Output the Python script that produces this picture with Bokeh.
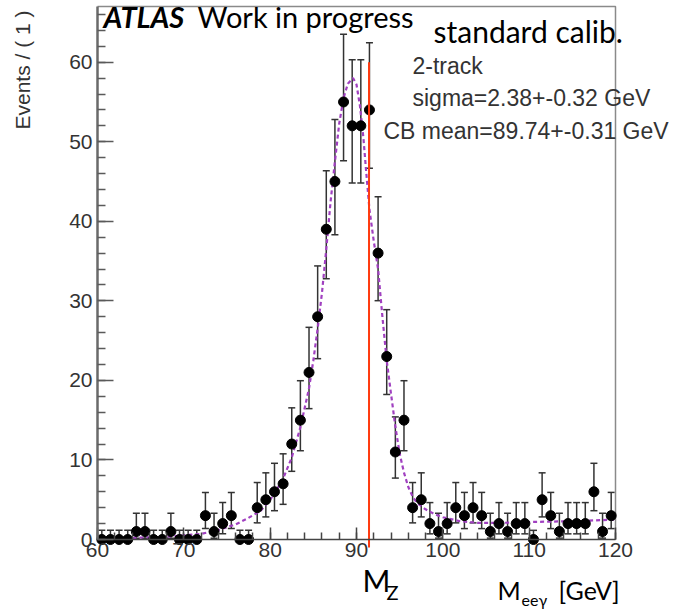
import math
from bokeh.plotting import figure
from bokeh.models import (ColumnDataSource, Range1d, FixedTicker, Label,
                          Whisker, TeeHead)
from bokeh.embed import file_html
from bokeh.resources import INLINE

# ---------------- data ----------------
bin_centers = [60.5 + i for i in range(60)]
counts = [0, 0, 0, 0, 1, 1, 0, 0, 1, 0,
          0, 0, 3, 1, 2, 3, 0, 0, 4, 5,
          6, 7, 12, 15, 21, 28, 39, 45, 55, 52,
          52, 54, 36, 23, 11, 15, 4, 5, 2, 1,
          2, 4, 3, 4, 3, 1, 2, 1, 2, 2,
          0, 5, 3, 1, 2, 2, 2, 6, 1, 3]
err_up = [1.15, 1.15, 1.15, 1.15, 2.30, 2.30, 1.15, 1.15, 2.30, 1.15,
          1.15, 1.15, 2.92, 2.30, 2.64, 2.92, 1.15, 1.15, 3.16, 3.38,
          3.58, 3.77, 4.55, 4.96, 5.67, 6.39, 7.34, 7.80, 8.51, 8.30,
          8.30, 8.44, 7.10, 5.89, 4.41, 4.96, 3.16, 3.38, 2.64, 2.30,
          2.64, 3.16, 2.92, 3.16, 2.92, 2.30, 2.64, 2.30, 2.64, 2.64,
          1.15, 3.38, 2.92, 2.30, 2.64, 2.64, 2.64, 3.58, 2.30, 2.92]
err_dn = [0, 0, 0, 0, 0.83, 0.83, 0, 0, 0.83, 0,
          0, 0, 1.63, 0.83, 1.29, 1.63, 0, 0, 1.91, 2.16,
          2.38, 2.58, 3.43, 3.84, 4.55, 5.27, 6.22, 6.68, 7.39, 7.18,
          7.18, 7.32, 5.98, 4.77, 3.28, 3.84, 1.91, 2.16, 1.29, 0.83,
          1.29, 1.91, 1.63, 1.91, 1.63, 0.83, 1.29, 0.83, 1.29, 1.29,
          0, 2.16, 1.63, 0.83, 1.29, 1.29, 1.29, 2.38, 0.83, 1.63]

fit_x = [60, 64, 68, 72, 74, 76, 77.3, 78.9, 80.2, 81.4, 82.5, 83.5, 84.5,
         85.0, 85.5, 86.0, 86.5, 87.0, 87.5, 88.0, 88.5, 89.0, 89.6, 90.0,
         90.4, 90.8, 91.1, 91.5, 92.0, 92.5, 93.0, 93.5, 94.0, 94.5, 95.0,
         95.5, 96.0, 96.5, 97.0, 98.0, 99.0, 100.0, 102.0, 104.0, 107.0,
         110.0, 115.0, 120.0]
fit_y = [0.1, 0.2, 0.35, 0.7, 1.2, 1.9, 2.6, 3.6, 5.3, 7.4, 10.3, 14.1, 19.0,
         22.5, 26.5, 31.0, 36.5, 42.5, 47.5, 52.3, 55.5, 57.3, 58.0, 57.2,
         54.5, 50.5, 46.5, 41.5, 37.5, 34.0, 28.0, 22.5, 18.3, 14.2, 10.8,
         8.4, 6.6, 5.4, 4.6, 3.8, 3.2, 2.8, 2.3, 2.1, 2.1,
         2.2, 2.3, 2.5]

mz_x = [91.45]
mz_top = [60.0]
mz_bottom = [-1.0]

x_major = [60, 70, 80, 90, 100, 110, 120]
y_major = [0, 10, 20, 30, 40, 50, 60]
x_minor = list(range(60, 121, 2))
y_minor = list(range(0, 67, 2))

# ---------------- layout ----------------
W, H = 682, 612
FL, FR, FT, FB = 97, 615, 6, 539          # plot box in canvas pixels
XMIN, XMAX, YMIN, YMAX = 60, 120, 0, 67   # plot box in data units
sx = (FR - FL) / (XMAX - XMIN)
sy = (FB - FT) / (YMAX - YMIN)
x_start, x_end = XMIN - FL / sx, XMAX + (W - FR) / sx
y_start, y_end = YMIN - (H - FB) / sy, YMAX + FT / sy

def px_x(px):
    return x_start + px / sx

def px_y(py):
    return y_end - py / sy

p = figure(width=W, height=H, output_backend="svg", toolbar_location=None,
           x_range=Range1d(x_start, x_end), y_range=Range1d(y_start, y_end),
           min_border=0)
p.background_fill_color = "white"
p.border_fill_color = "white"
p.outline_line_color = None
p.xgrid.visible = False
p.ygrid.visible = False

lab_col = "#333333"
for ax in (p.xaxis[0], p.yaxis[0]):
    ax.major_tick_line_width = 1.5
    ax.minor_tick_line_width = 1.5
    ax.major_tick_out = 0
    ax.minor_tick_out = 0
    ax.major_label_text_font = "Liberation Sans"
    ax.major_label_text_font_size = "21px"
    ax.major_label_text_color = lab_col

p.xaxis.fixed_location = YMIN
p.yaxis.fixed_location = XMIN
p.xaxis.bounds = (XMIN, XMAX)
p.yaxis.bounds = (YMIN, YMAX)
p.xaxis.ticker = FixedTicker(ticks=x_major, minor_ticks=x_minor)
p.yaxis.ticker = FixedTicker(ticks=y_major, minor_ticks=y_minor)
p.xaxis.axis_line_color = "#444444"
p.xaxis.axis_line_width = 1.5
p.xaxis.major_tick_line_color = "#444444"
p.xaxis.minor_tick_line_color = "#444444"
p.yaxis.axis_line_color = "#6a6a6a"
p.yaxis.axis_line_width = 2.5
p.yaxis.major_tick_line_color = "#5a5a5a"
p.yaxis.minor_tick_line_color = "#5a5a5a"
p.xaxis.major_tick_in = 12
p.xaxis.minor_tick_in = 7
p.yaxis.major_tick_in = 16
p.yaxis.minor_tick_in = 8
p.xaxis.major_label_standoff = 3
p.yaxis.major_label_standoff = 5

# top and right edges of the plot box
p.line([XMIN, XMAX, XMAX], [YMAX, YMAX, YMIN], line_color="#8a8a8a", line_width=1.5)

# fit curve
p.line(fit_x, fit_y, line_color="#a040c0", line_width=2.2, line_dash="4 3")

# error bars
lo = [c - d for c, d in zip(counts, err_dn)]
hi = [c + u for c, u in zip(counts, err_up)]
src = ColumnDataSource(dict(x=bin_centers, y=counts, lo=lo, hi=hi))
wh = Whisker(source=src, base="x", lower="lo", upper="hi",
             line_color="#333333", line_width=1.5,
             upper_head=TeeHead(size=7, line_color="#333333", line_width=1.5),
             lower_head=TeeHead(size=7, line_color="#333333", line_width=1.5))
p.add_layout(wh)

# data points
p.scatter("x", "y", source=src, size=10, color="black")

# M_Z line
p.segment(x0=mz_x, y0=mz_bottom, x1=mz_x, y1=mz_top, line_color="#ff3a10", line_width=2)

# ---------------- texts ----------------
BASE_SHIFT = 0.43   # empirical: rendered baseline sits ~0.43 em below the anchor

def add_label(text, px, py, font, size, color="black", style="normal",
              align="left", baseline="alphabetic", angle=0.0):
    if baseline == "alphabetic":
        py = py - BASE_SHIFT * size
    p.add_layout(Label(x=px_x(px), y=px_y(py), text=text, text_font=font,
                       text_font_size=f"{size}px", text_color=color,
                       text_font_style=style, text_align=align,
                       text_baseline=baseline, angle=angle))

add_label("ATLAS", 103, 28, "Lato", 29, style="bold italic")
add_label("Work in progress", 197, 28, "Lato", 29)
add_label("standard calib.", 433, 43, "Lato", 30)
add_label("2-track", 412, 75, "Liberation Sans", 23, color=lab_col)
add_label("sigma=2.38+-0.32 GeV", 412, 107, "Liberation Sans", 23, color=lab_col)
add_label("CB mean=89.74+-0.31 GeV", 383, 140, "Liberation Sans", 23, color=lab_col)
add_label("Events / ( 1 )", 22, 10, "Liberation Sans", 21, color=lab_col,
          align="right", baseline="middle", angle=math.pi / 2)
add_label("M", 362, 592, "Lato", 30)
add_label("Z", 386, 600, "Lato", 20)
add_label("M", 497, 600, "Lato", 25)
add_label("eeγ", 521, 606, "Lato", 16)
add_label("[GeV]", 558, 600, "Lato", 25)

open("out.html", "w").write(file_html(p, INLINE))
